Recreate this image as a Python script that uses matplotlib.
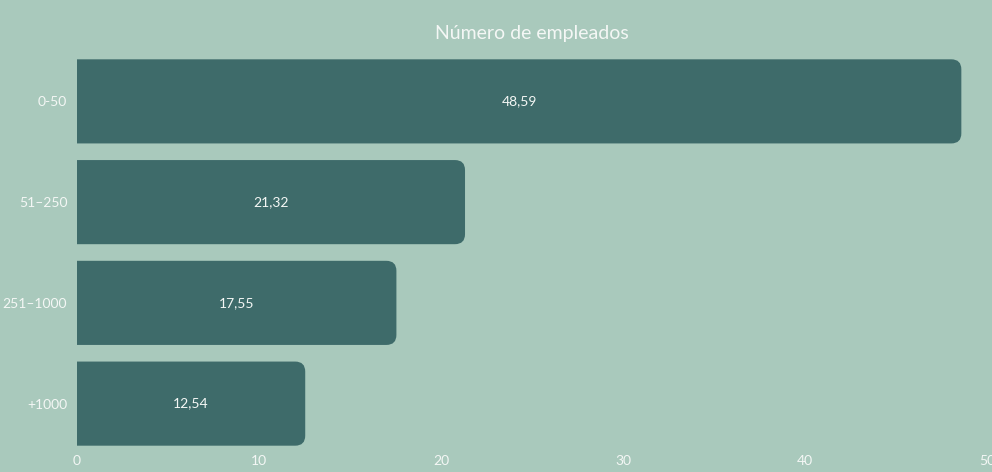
import matplotlib
matplotlib.use("Agg")
import matplotlib.pyplot as plt
from matplotlib.path import Path
from matplotlib.patches import PathPatch
from matplotlib.transforms import IdentityTransform

# data
categories = ["0-50", "51–250", "251–1000", "+1000"]
values = [48.59, 21.32, 17.55, 12.54]
labels = ["48,59", "21,32", "17,55", "12,54"]
xticks = [0, 10, 20, 30, 40, 50]

bg = "#a9c9bc"
bar_color = "#3e6b6a"
txt = "#f4f7f5"
plt.rcParams["font.family"] = ["Lato", "DejaVu Sans"]

fig = plt.figure(figsize=(9.92, 4.72), dpi=100, facecolor=bg)
ax = fig.add_axes([77 / 992, 18 / 472, 910 / 992, 403 / 472])
ax.set_facecolor(bg)
ax.set_xlim(0, 50)
ax.set_ylim(len(categories) - 0.5, -0.5)
for s in ax.spines.values():
    s.set_visible(False)

ax.set_xticks(xticks)
ax.set_xticklabels([str(t) for t in xticks])
ax.set_yticks(range(len(categories)))
ax.set_yticklabels(categories)
ax.tick_params(length=0, colors=txt, labelsize=10)
ax.tick_params(axis="y", pad=7)
ax.tick_params(axis="x", pad=1)

fig.canvas.draw()
h = 0.835
r = 10  # corner radius in pixels
for i, v in enumerate(values):
    x0, y0 = ax.transData.transform((0, i + h / 2))
    x1, y1 = ax.transData.transform((v, i - h / 2))
    verts = [(x0, y0), (x1 - r, y0), (x1, y0), (x1, y0 + r),
             (x1, y1 - r), (x1, y1), (x1 - r, y1), (x0, y1), (x0, y0)]
    codes = [Path.MOVETO, Path.LINETO, Path.CURVE3, Path.CURVE3,
             Path.LINETO, Path.CURVE3, Path.CURVE3, Path.LINETO, Path.CLOSEPOLY]
    ax.add_patch(PathPatch(Path(verts, codes), facecolor=bar_color,
                           edgecolor="none", transform=IdentityTransform()))
    ax.text(v / 2, i, labels[i], color=txt, fontsize=10,
            ha="center", va="center")

fig.text(532 / 992, 1 - 34 / 472, "Número de empleados", color=txt,
         fontsize=14, ha="center", va="center")

fig.savefig("out.png", dpi=100, facecolor=bg)
